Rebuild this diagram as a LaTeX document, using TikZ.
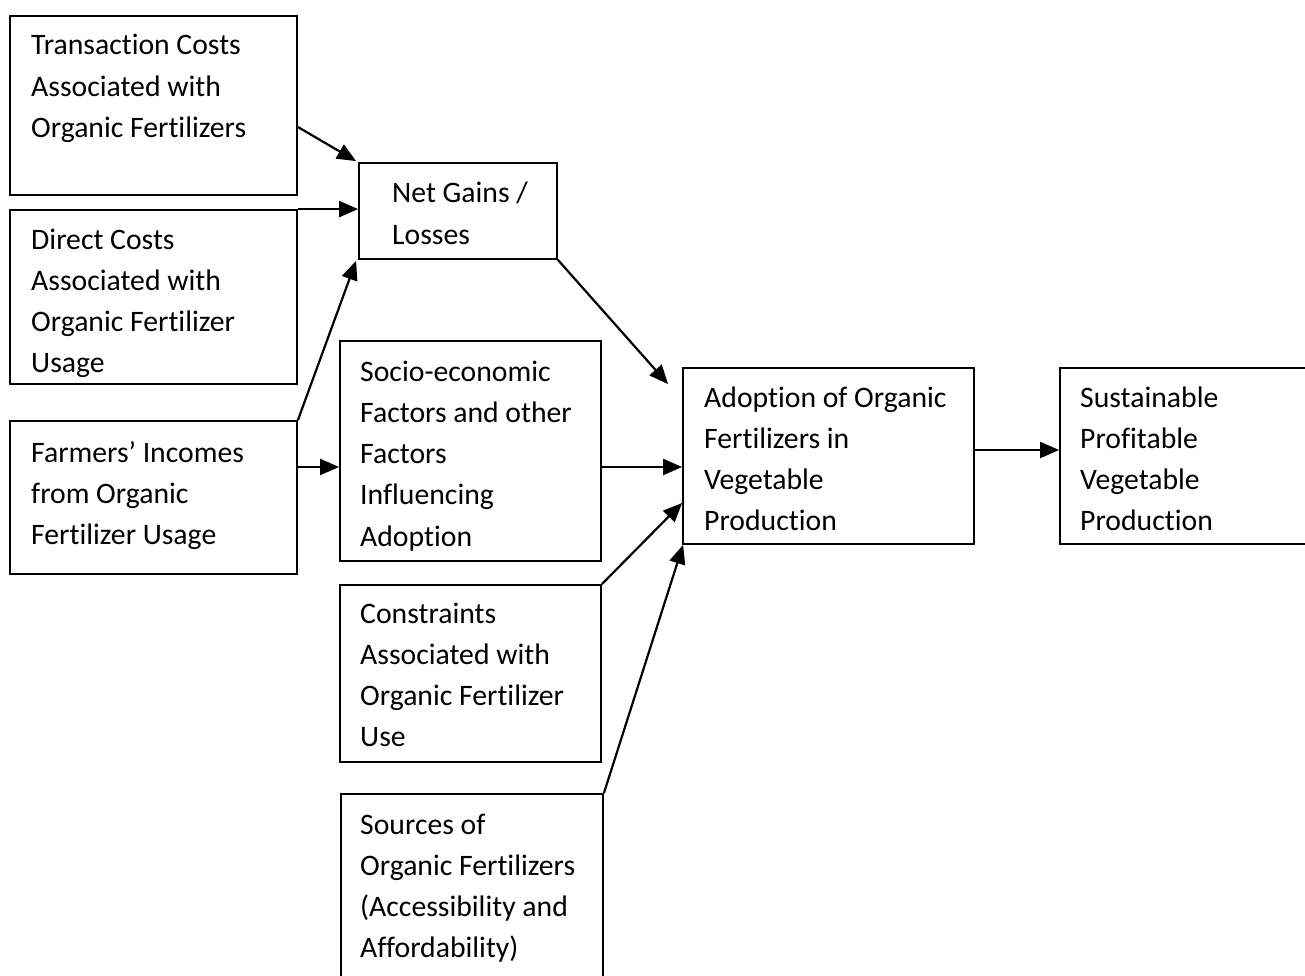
\documentclass[tikz,border=0pt]{standalone}
\usepackage{fontspec}
\setmainfont{Carlito}[Ligatures={NoCommon,NoContextual},RawFeature=-clig]
\usetikzlibrary{arrows.meta,calc}
\begin{document}
\begin{tikzpicture}[x=1pt,y=-1pt,
  box/.style={draw=black,line width=1.8pt,rectangle,inner sep=0pt},
  txt/.style={anchor=base west,align=left,inner sep=0pt,font=\fontsize{29.7}{41.3}\selectfont},
  arr/.style={line width=2.2pt,-{Triangle[length=19pt,width=16pt]}}]
\useasboundingbox (0,0) rectangle (1305,976);
% boxes
\node[box,minimum width=287pt,minimum height=179pt] (trans) at (153.5,105.5) {};
\node[box,minimum width=287pt,minimum height=174pt] (direct) at (153.5,297) {};
\node[box,minimum width=287pt,minimum height=153pt] (farm) at (153.5,497.5) {};
\node[box,minimum width=198pt,minimum height=96pt] (net) at (458,211) {};
\node[box,minimum width=261pt,minimum height=220pt] (socio) at (470.5,451) {};
\node[box,minimum width=261pt,minimum height=177pt] (cons) at (470.5,673.5) {};
\node[box,minimum width=262pt,minimum height=206pt] (src) at (472,897) {};
\node[box,minimum width=291pt,minimum height=176pt] (adopt) at (828.5,456) {};
\node[box,minimum width=270pt,minimum height=176pt] (sust) at (1195,456) {};
% texts (anchored at the baseline of the last line)
\node[txt] (transT) at (31,137.6) {Transaction Costs\\Associated with\\Organic Fertilizers};
\node[txt] (directT) at (31,372.9) {Direct Costs\\Associated with\\Organic Fertilizer\\Usage};
\node[txt] (farmT) at (31,544.6) {Farmers’ Incomes\\from Organic\\Fertilizer Usage};
\node[txt] (netT) at (392,244.3) {Net Gains /\\Losses};
\node[txt] (socioT) at (360,546.2) {Socio-economic\\Factors and other\\Factors\\Influencing\\Adoption};
\node[txt] (consT) at (360,746.9) {Constraints\\Associated with\\Organic Fertilizer\\Use};
\node[txt] (srcT) at (360,957.9) {Sources of\\Organic Fertilizers\\(Accessibility and\\Affordability)};
\node[txt] (adoptT) at (704,530.9) {Adoption of Organic\\Fertilizers in\\Vegetable\\Production};
\node[txt] (sustT) at (1080,530.9) {Sustainable\\Profitable\\Vegetable\\Production};
% connector end points
\coordinate (transOut) at ([yshift=-21.5pt]trans.east);
\coordinate (farmOut) at ([yshift=30.5pt]farm.east);
\coordinate (socioOut) at ([yshift=-16pt]socio.east);
\coordinate (adoptOut) at ([yshift=6pt]adopt.east);
% arrows
\draw[arr] (transOut) -- ([xshift=-2pt,yshift=1pt]net.north west);
\draw[arr] (direct.north east) -- (net.west |- direct.north east);
\draw[arr] (farm.north east) -- ([xshift=-2pt,yshift=-1pt]net.south west);
\draw[arr] (farmOut) -- (socio.west |- farmOut);
\draw[arr] (net.south east) -- ([xshift=-14pt,yshift=-17pt]adopt.north west);
\draw[arr] (socioOut) -- (adopt.west |- socioOut);
\draw[arr] (cons.north east) -- ([yshift=-47pt]adopt.west);
\draw[arr] (src.north east) -- ([xshift=1pt]adopt.south west);
\draw[arr] (adoptOut) -- (sust.west |- adoptOut);
\end{tikzpicture}
\end{document}
